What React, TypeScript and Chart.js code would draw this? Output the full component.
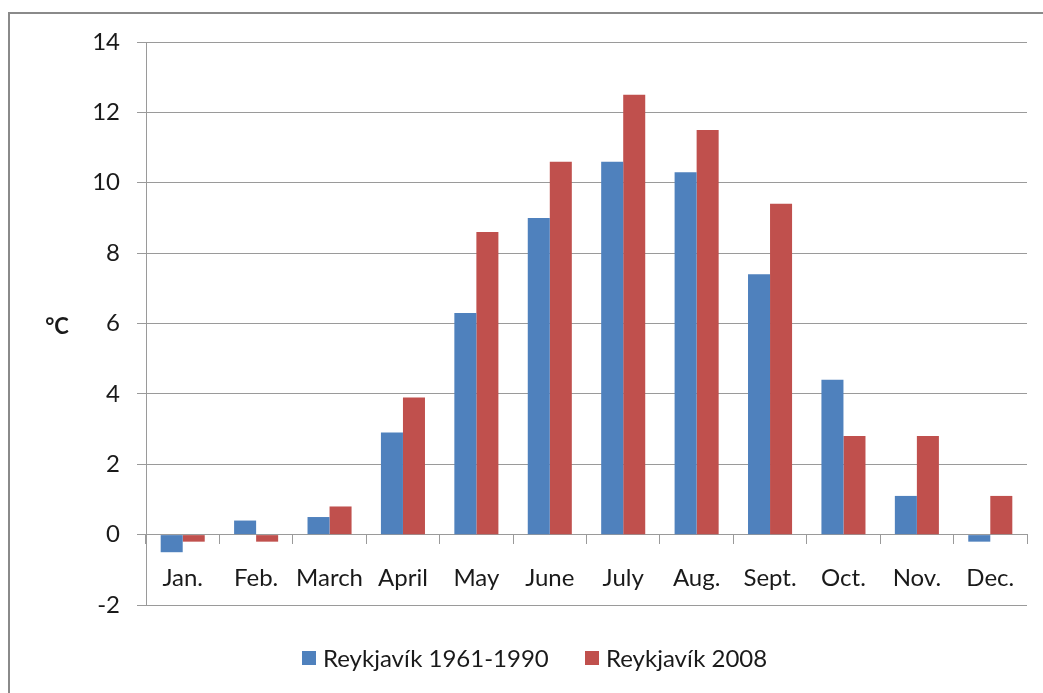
import React, { useEffect, useRef } from "react";
import { Chart, registerables } from "chart.js";

Chart.register(...registerables);

const months = ["Jan.", "Feb.", "March", "April", "May", "June", "July", "Aug.", "Sept.", "Oct.", "Nov.", "Dec."];
const normal1961to1990 = [-0.5, 0.4, 0.5, 2.9, 6.3, 9.0, 10.6, 10.3, 7.4, 4.4, 1.1, -0.2];
const year2008 = [-0.2, -0.2, 0.8, 3.9, 8.6, 10.6, 12.5, 11.5, 9.4, 2.8, 2.8, 1.1];
const seriesNames = ["Reykjavík 1961-1990", "Reykjavík 2008"];
const seriesColors = ["#4F81BD", "#C0504D"];
const yMin = -2;
const yMax = 14;
const yStep = 2;
const unitLabel = "°C";

const FONT = "Lato, 'Open Sans', sans-serif";
const TEXT = "#1a1a1a";
const GRID = "#9a9a9a";

const decorPlugin = {
  id: "decor",
  afterDraw(chart: any) {
    const ctx = chart.ctx;
    ctx.save();
    // outer frame
    ctx.strokeStyle = "#8a8a8a";
    ctx.lineWidth = 2;
    ctx.strokeRect(9, 13, 1100, 750);
    // unit label
    ctx.fillStyle = TEXT;
    ctx.font = `bold 22px ${FONT}`;
    ctx.textAlign = "center";
    ctx.textBaseline = "middle";
    ctx.fillText(unitLabel, 57, 327);
    // legend
    ctx.font = `24px ${FONT}`;
    ctx.textAlign = "left";
    const starts = [302, 585];
    chart.data.datasets.forEach((ds: any, i: number) => {
      const x = starts[i];
      ctx.fillStyle = ds.backgroundColor;
      ctx.fillRect(x, 651, 14, 14);
      ctx.fillStyle = TEXT;
      ctx.fillText(ds.label, x + 21, 659);
    });
    ctx.restore();
  },
};

export default function App() {
  const ref = useRef<HTMLCanvasElement>(null);
  useEffect(() => {
    if (!ref.current) return;
    const chart = new Chart(ref.current, {
      type: "bar",
      data: {
        labels: months,
        datasets: [
          { label: seriesNames[0], data: normal1961to1990, backgroundColor: seriesColors[0] },
          { label: seriesNames[1], data: year2008, backgroundColor: seriesColors[1] },
        ],
      },
      options: {
        responsive: false,
        animation: false,
        devicePixelRatio: 1,
        layout: { padding: { top: 42, right: 16, bottom: 88, left: 0 } },
        datasets: { bar: { categoryPercentage: 0.6, barPercentage: 1 } },
        plugins: { legend: { display: false }, tooltip: { enabled: false } },
        scales: {
          x: {
            position: { y: 0 } as any,
            offset: true,
            grid: { display: true, drawOnChartArea: false, tickLength: 9, color: GRID, offset: true },
            border: { color: GRID },
            ticks: { color: TEXT, font: { family: FONT, size: 24 }, padding: 20 },
          },
          y: {
            min: yMin,
            max: yMax,
            ticks: { stepSize: yStep, color: TEXT, font: { family: FONT, size: 24 }, padding: 17 },
            grid: { color: GRID, tickLength: 9 },
            border: { color: GRID },
            afterFit: (scale: any) => {
              scale.width = 146;
            },
          },
        },
      },
      plugins: [decorPlugin],
    });
    return () => chart.destroy();
  }, []);
  return (
    <div style={{ position: "fixed", left: 0, top: 0, width: 1043, height: 693, background: "#fff" }}>
      <canvas ref={ref} width={1043} height={693} style={{ display: "block" }} />
    </div>
  );
}
